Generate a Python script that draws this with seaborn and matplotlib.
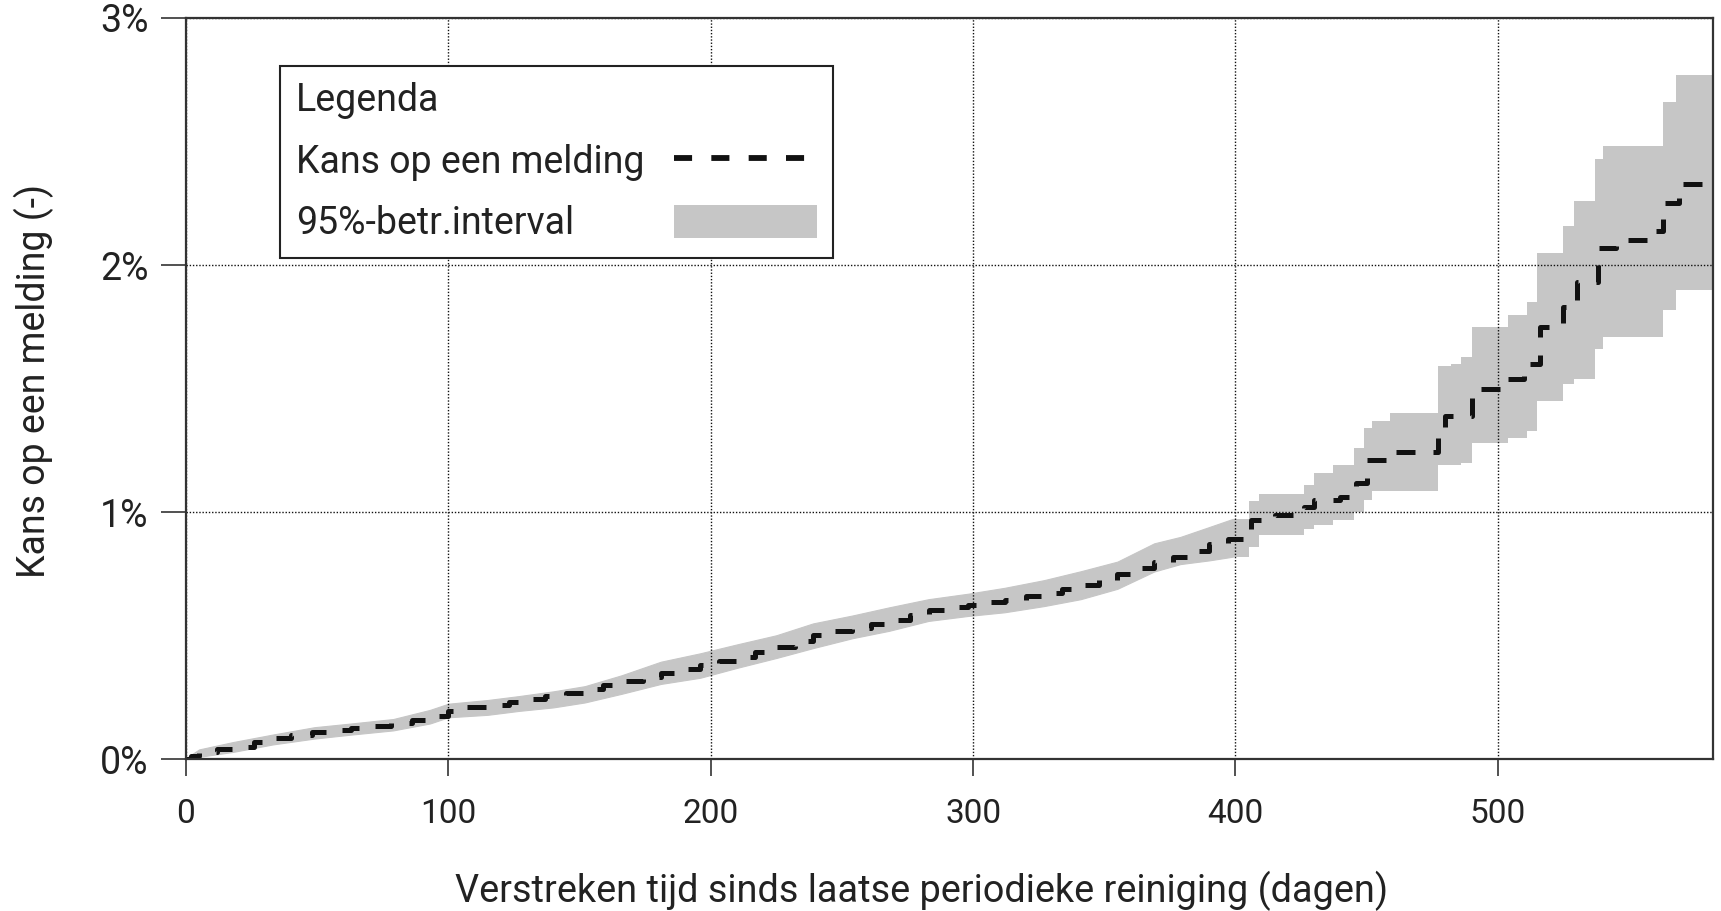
import numpy as np
import pandas as pd
import matplotlib
matplotlib.use("Agg")
import matplotlib.pyplot as plt
from matplotlib.lines import Line2D
from matplotlib.patches import Patch
from matplotlib.ticker import FuncFormatter
import seaborn as sns

# ---- data ----
line_days = [0, 2, 5, 12, 18, 26, 33, 40, 48, 55, 63, 70, 78, 86, 93, 100, 107, 115, 123, 130,
             137, 145, 152, 159, 166, 174, 181, 188, 196, 203, 210, 217, 225, 232, 239, 247, 254,
             261, 268, 276, 283, 290, 298, 305, 312, 320, 327, 334, 341, 348, 355, 362, 369, 376,
             383, 390, 397, 403, 406, 415, 426, 430, 440, 446, 450, 460, 477, 480, 490, 502, 510,
             512, 516, 525, 530, 538, 545, 560, 563, 569, 579]
line_pct = [0.0, 0.015, 0.03, 0.04, 0.05, 0.07, 0.085, 0.10, 0.11, 0.12, 0.125, 0.135, 0.146, 0.16,
            0.176, 0.196, 0.21, 0.22, 0.23, 0.245, 0.256, 0.27, 0.284, 0.30, 0.316, 0.335, 0.35,
            0.365, 0.381, 0.397, 0.414, 0.435, 0.456, 0.48, 0.502, 0.518, 0.53, 0.546, 0.563,
            0.583, 0.603, 0.615, 0.625, 0.635, 0.645, 0.66, 0.675, 0.69, 0.705, 0.725, 0.751,
            0.775, 0.798, 0.82, 0.845, 0.87, 0.89, 0.93, 0.97, 0.99, 1.02, 1.05, 1.06, 1.12, 1.21,
            1.245, 1.33, 1.39, 1.50, 1.54, 1.58, 1.60, 1.75, 1.83, 1.93, 2.07, 2.10, 2.14, 2.25,
            2.33, 2.33]

band_days = [0, 5, 18, 33, 49, 63, 79, 93, 100, 115, 127, 140, 152, 166, 181, 196, 210, 225, 239,
             254, 268, 283, 298, 312, 327, 341, 355, 369, 379, 390, 399, 405, 409, 426, 430, 437,
             445, 449, 452, 459, 477, 482, 486, 490, 504, 511, 515, 525, 529, 537, 540, 563, 568,
             582]
band_lo = [0.0, 0.01, 0.03, 0.06, 0.084, 0.10, 0.117, 0.145, 0.17, 0.18, 0.196, 0.21, 0.23, 0.265,
           0.305, 0.33, 0.37, 0.41, 0.45, 0.49, 0.52, 0.56, 0.58, 0.595, 0.62, 0.648, 0.69, 0.76,
           0.79, 0.805, 0.82, 0.86, 0.907, 0.93, 0.947, 0.967, 1.0, 1.05, 1.086, 1.086, 1.19,
           1.19, 1.20, 1.28, 1.30, 1.33, 1.45, 1.52, 1.54, 1.66, 1.71, 1.82, 1.90, 1.90]
band_hi = [0.005, 0.04, 0.07, 0.10, 0.13, 0.145, 0.163, 0.20, 0.225, 0.24, 0.256, 0.275, 0.296,
           0.34, 0.395, 0.429, 0.465, 0.502, 0.55, 0.582, 0.615, 0.648, 0.67, 0.694, 0.725, 0.761,
           0.80, 0.874, 0.90, 0.94, 0.973, 1.045, 1.075, 1.11, 1.16, 1.19, 1.26, 1.34, 1.37, 1.40,
           1.59, 1.60, 1.63, 1.75, 1.80, 1.85, 2.05, 2.16, 2.26, 2.43, 2.48, 2.66, 2.77, 2.77]

x_ticks = [0, 100, 200, 300, 400, 500]
y_ticks = [0, 1, 2, 3]

x_label = "Verstreken tijd sinds laatse periodieke reiniging (dagen)"
y_label = "Kans op een melding (-)"
legend_title = "Legenda"
legend_labels = ["Kans op een melding", "95%-betr.interval"]

# ---- style ----
sns.set_theme(style="white")
plt.rcParams["font.family"] = ["Roboto", "DejaVu Sans"]
TXT = "#222222"
BAND = "#c6c6c6"

df_line = pd.DataFrame({"dagen": line_days, "kans": line_pct})
df_band = pd.DataFrame({"dagen": band_days, "lo": band_lo, "hi": band_hi})
early = df_band[df_band["dagen"] <= 399]
late = df_band[df_band["dagen"] >= 399]

fig = plt.figure(figsize=(17.21, 9.11), dpi=100)
top_px = 18
ax = fig.add_axes([186 / 1721, 1 - 759.3 / 911, (1713 - 186) / 1721, (759.3 - top_px) / 911])

ax.fill_between(early["dagen"], early["lo"], early["hi"],
                color=BAND, linewidth=0.8, edgecolor=BAND, zorder=2)
ax.fill_between(late["dagen"], late["lo"], late["hi"], step="post",
                color=BAND, linewidth=0, zorder=2)
sns.lineplot(data=df_line, x="dagen", y="kans", ax=ax, drawstyle="steps-post",
             color="#111111", linewidth=3.6, linestyle=(0, (3.8, 3.6)),
             dash_capstyle="butt", zorder=3, legend=False)

ax.set_xlim(0, 582)
ax.set_ylim(0, 3)
ax.set_xticks(x_ticks)
ax.set_yticks(y_ticks)
ax.yaxis.set_major_formatter(FuncFormatter(lambda v, p: f"{v:.0f}%"))

ax.grid(True, color="#111111", linestyle=(0, (1, 1.3)), linewidth=1.0, zorder=1)
ax.set_axisbelow(False)
for s in ax.spines.values():
    s.set_color("#333333")
    s.set_linewidth(1.6)
    s.set_zorder(4)

ax.tick_params(axis="y", which="major", direction="out", length=18, width=1.2,
               colors="#333333", labelcolor=TXT, labelsize=27, pad=9, left=True)
ax.tick_params(axis="x", which="major", direction="out", length=12, width=1.2,
               colors="#333333", labelcolor=TXT, labelsize=24, pad=16, bottom=True)

ax.set_xlabel(x_label, fontsize=27.3, color=TXT, labelpad=29)
ax.xaxis.label.set_x(0.482)
ax.set_ylabel(y_label, fontsize=27, color=TXT, labelpad=33)
ax.yaxis.label.set_y(0.51)

handles = [Line2D([0], [0], color="#111111", linewidth=4.2, linestyle=(0, (3.1, 3.3)),
                  dash_capstyle="butt"),
           Patch(facecolor=BAND, edgecolor="none")]
leg = ax.legend(handles, legend_labels, title=legend_title, loc="upper left",
                bbox_to_anchor=(0.0616, (759.3 - 66) / (759.3 - top_px)), markerfirst=False,
                frameon=True, fancybox=False, edgecolor="#222222", framealpha=1.0, fontsize=27,
                title_fontsize=27, alignment="left", handlelength=3.8, handleheight=0.95,
                handletextpad=0.8, labelspacing=0.66, borderpad=0.42, borderaxespad=0.0)
leg.get_frame().set_linewidth(1.5)
leg.get_title().set_color(TXT)
for t in leg.get_texts():
    t.set_color(TXT)
leg.set_zorder(5)

# labels left, handles right: stretch every legend row to the widest row
fig.canvas.draw()
renderer = fig.canvas.get_renderer()
for col in leg._legend_handle_box.get_children():
    rows = col.get_children()
    wmax = max(r.get_bbox(renderer).width for r in rows)
    for r in rows:
        r.mode = "expand"
        r.width = wmax
    col.align = "left"

fig.savefig("out.png", dpi=100)
